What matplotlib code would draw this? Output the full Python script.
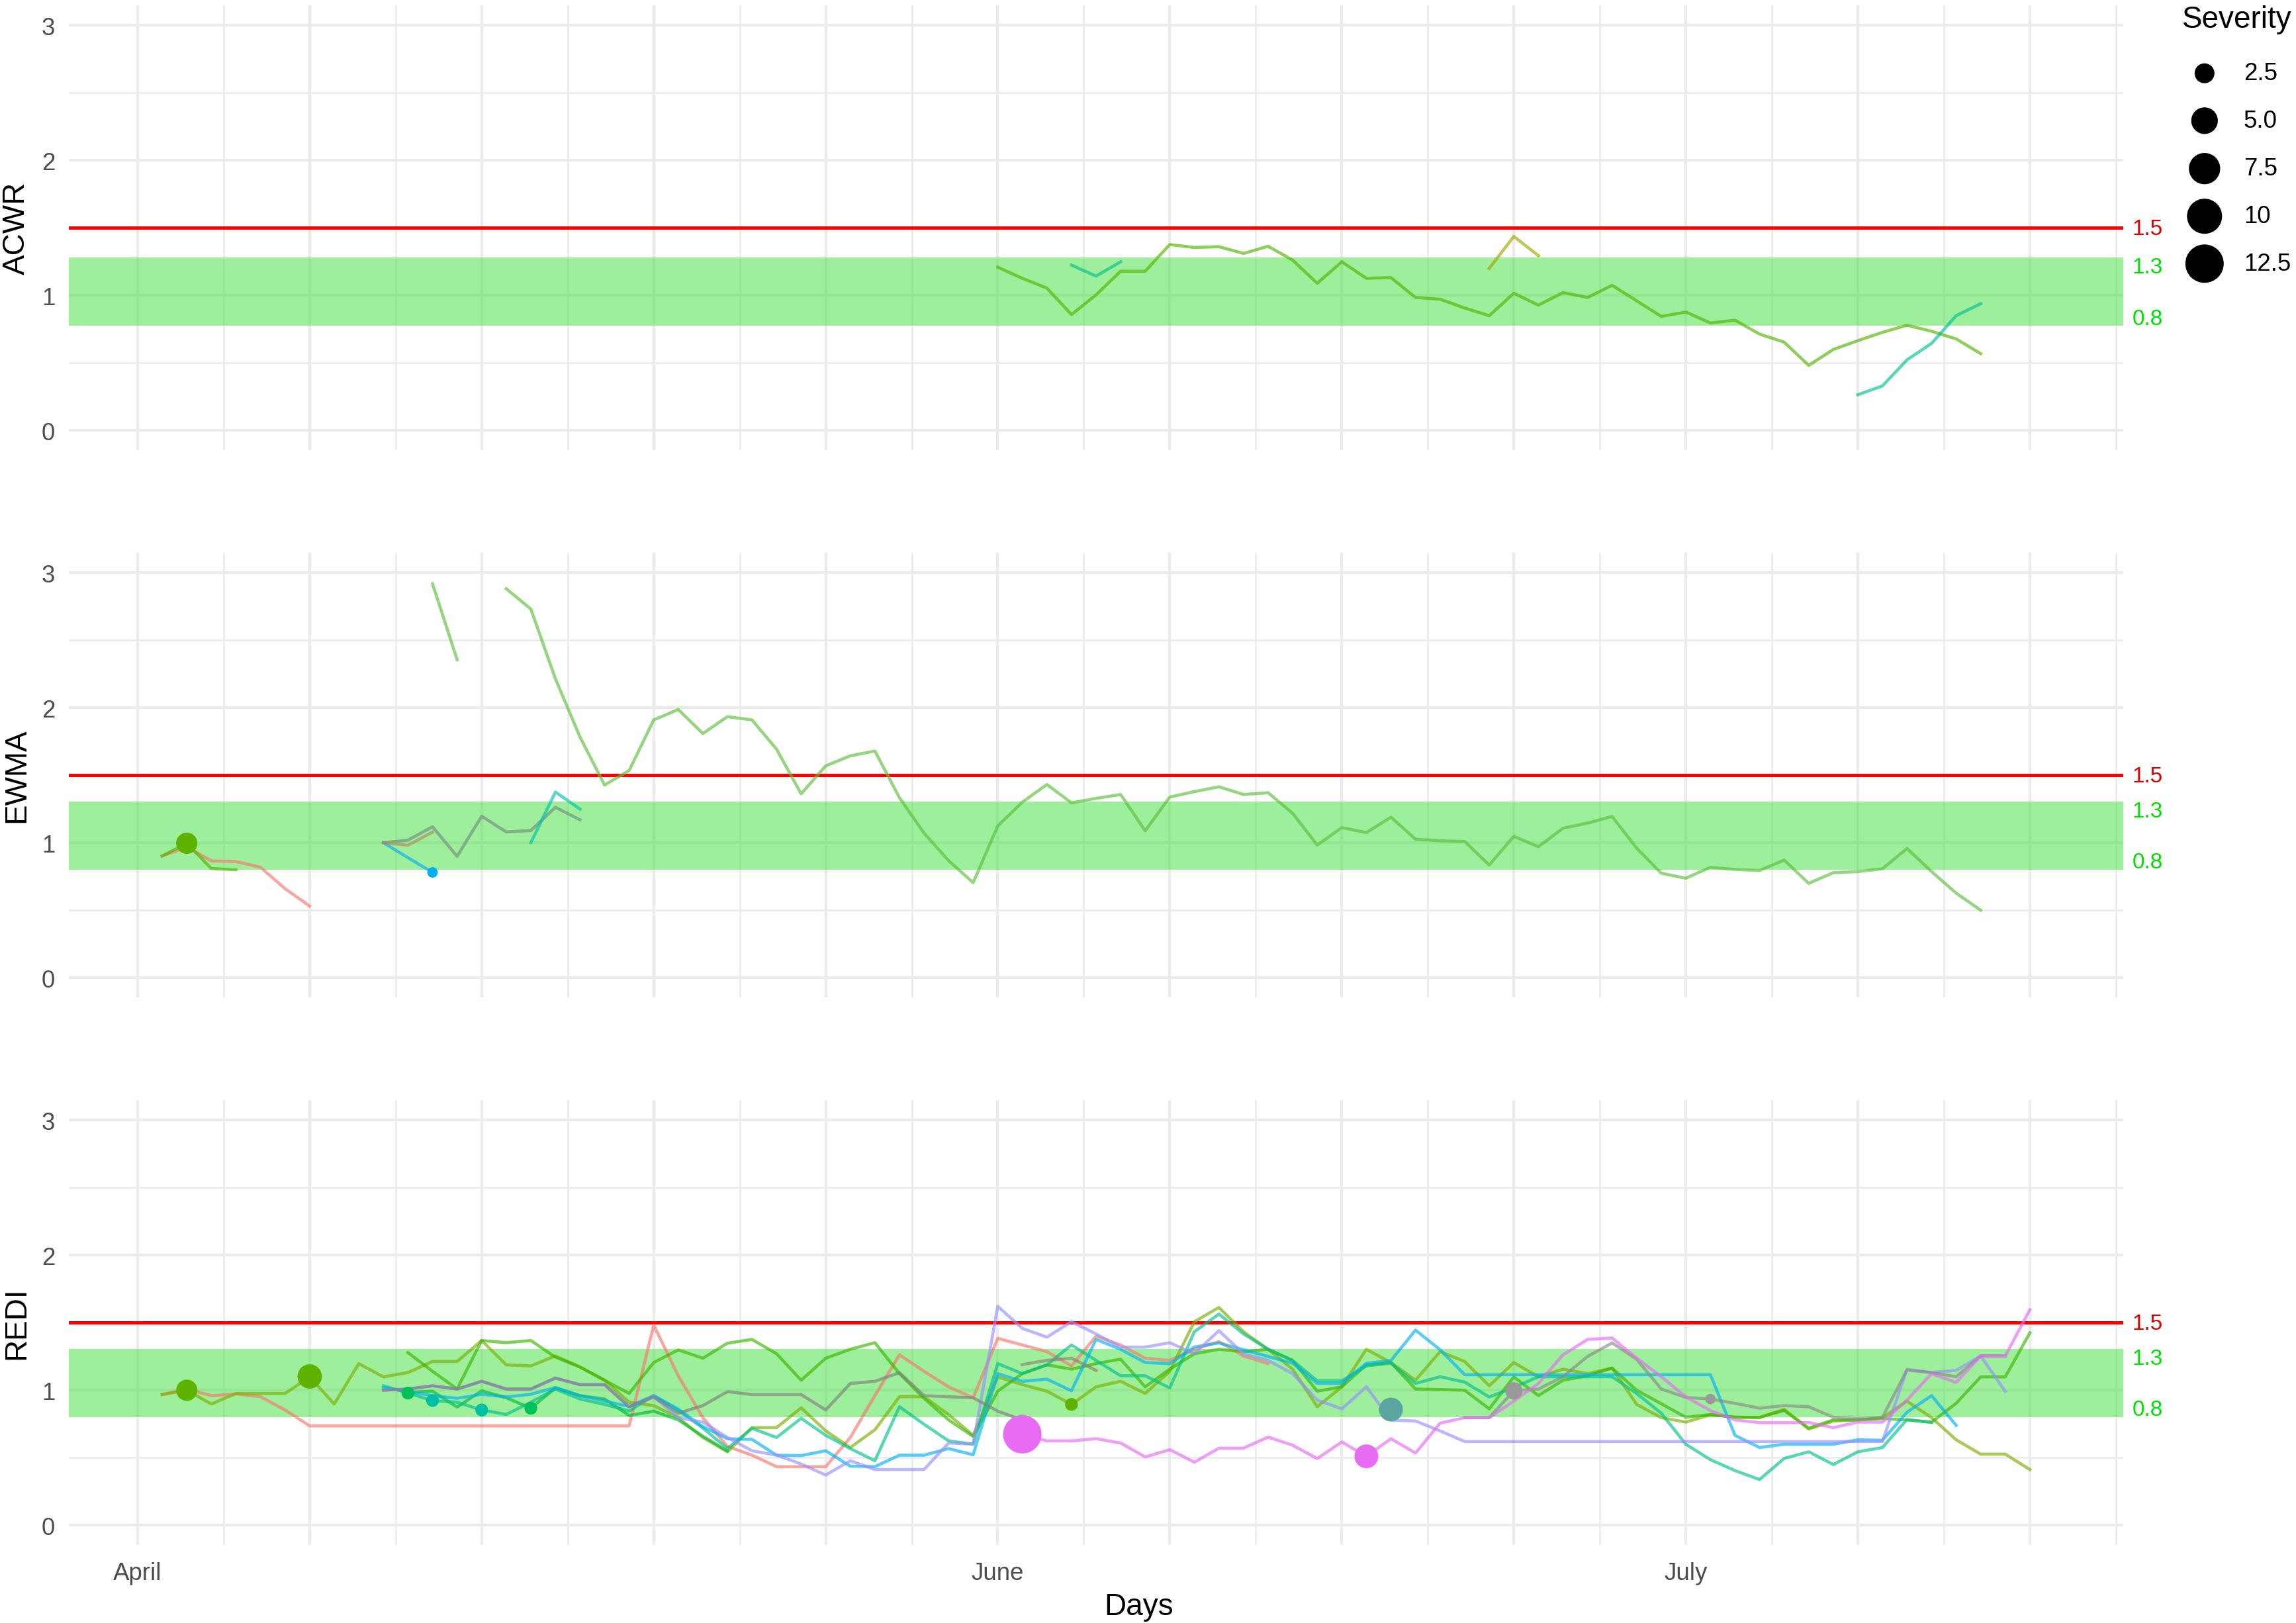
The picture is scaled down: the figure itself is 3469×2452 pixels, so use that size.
import numpy as np
import matplotlib
matplotlib.use("Agg")
import matplotlib.pyplot as plt

plt.rcParams['font.family'] = ['Liberation Sans', 'DejaVu Sans']

# ---------------- data ----------------
days = np.arange(1, 78)
tick_days = [0, 35, 63]
tick_labels = ["April", "June", "July"]
metrics = ["ACWR", "EWMA", "REDI"]
ref_red = 1.5
band_lims = [(0.775, 1.282), (0.803, 1.307), (0.80, 1.307)]


def series(start, vals):
    y = np.full(days.size, np.nan)
    y[start - 1:start - 1 + len(vals)] = vals
    return y

# ACWR
acwr_green = series(35, [1.209, 1.127, 1.054, 0.858, 1.004, 1.179, 1.179, 1.377, 1.355, 1.361,
                         1.311, 1.364, 1.261, 1.090, 1.249, 1.127, 1.132, 0.985, 0.972, 0.907,
                         0.850, 1.016, 0.928, 1.021, 0.985, 1.075, 0.960, 0.845, 0.877, 0.796,
                         0.817, 0.714, 0.654, 0.482, 0.600, 0.665, 0.727, 0.779, 0.735, 0.678, 0.569])
acwr_teal1 = series(38, [1.225, 1.143, 1.249])
acwr_olive = series(55, [1.200, 1.437, 1.295])
acwr_teal2 = series(70, [0.265, 0.330, 0.523, 0.645, 0.850, 0.939])

# EWMA
ewma_pink = series(1, [0.903, 0.969, 0.866, 0.862, 0.819, 0.660, 0.532])
ewma_green_a = series(1, [0.903, 0.997, 0.810, 0.800])
ewma_cyan = series(10, [1.001, 0.89, 0.781])
ewma_gray = series(10, [1.001, 1.020, 1.119, 0.900, 1.197, 1.081, 1.091, 1.263, 1.171])
ewma_brown = series(10, [1.001, 0.982, 1.08])
ewma_teal = series(16, [1.001, 1.376, 1.250])
ewma_green_b = series(12, [2.918, 2.356])
ewma_green_c = series(15, [2.881, 2.731, 2.215, 1.784, 1.428, 1.535, 1.910, 1.987, 1.809, 1.934,
                           1.910, 1.693, 1.363, 1.570, 1.644, 1.680, 1.334, 1.072, 0.868, 0.705,
                           1.125, 1.301, 1.432, 1.296, 1.329, 1.358, 1.089, 1.339, 1.379, 1.415,
                           1.358, 1.371, 1.219, 0.983, 1.113, 1.076, 1.190, 1.027, 1.015, 1.010,
                           0.836, 1.048, 0.971, 1.108, 1.146, 1.195, 0.961, 0.775, 0.738, 0.819,
                           0.803, 0.795, 0.873, 0.700, 0.779, 0.787, 0.808, 0.958, 0.787, 0.628, 0.501])

# REDI
redi_pink = series(1, [0.968, 1.009, 0.960, 0.973, 0.952, 0.854] + [0.736] * 14 +
                   [1.482, 1.107, 0.797, 0.584, 0.519, 0.434, 0.434, 0.434, 0.65, 0.96,
                    1.262, 1.14, 1.025, 0.944, 1.384, 1.335, 1.286, 1.18, 1.40, 1.335,
                    1.237, 1.221, 1.303, 1.36, 1.254, 1.197])
redi_olive = series(1, [0.968, 1.0, 0.898, 0.976, 0.976, 0.976, 1.099, 0.898, 1.197, 1.099,
                        1.131, 1.213, 1.213, 1.368, 1.188, 1.180, 1.254, 1.172, 1.074, 0.911,
                        0.886, 0.797, 0.65, 0.544, 0.723, 0.723, 0.87, 0.699, 0.576, 0.707,
                        0.952, 0.952, 0.82, 0.666, 1.099, 1.041, 0.993, 0.895, 1.025, 1.066,
                        0.976, 1.14, 1.507, 1.613, 1.433, 1.303, 1.156, 0.878, 1.025, 1.303,
                        1.205, 1.074, 1.286, 1.213, 1.033, 1.205, 1.099, 1.156, 1.123, 1.164,
                        0.895, 0.797, 0.764, 0.818, 0.801, 0.797, 0.859, 0.712, 0.772, 0.78,
                        0.797, 0.919, 0.797, 0.633, 0.527, 0.527, 0.413])
redi_green = series(11, [1.278, 1.14, 1.009, 1.368, 1.352, 1.368, 1.245, 1.172, 1.074, 0.976,
                         1.205, 1.299, 1.237, 1.348, 1.376, 1.27, 1.074, 1.237, 1.303, 1.352,
                         1.123, 0.94, 0.78, 0.658, 0.993, 1.123, 1.188, 1.156, 1.197, 1.23,
                         1.025, 1.156, 1.27, 1.303, 1.286, 1.303, 1.221, 0.993, 1.025, 1.188,
                         1.205, 1.009, 1.005, 1.0, 0.862, 1.099, 0.96, 1.074, 1.107, 1.164,
                         1.0, 0.9, 0.80, 0.82, 0.80, 0.80, 0.85, 0.72, 0.78, 0.78, 0.79, 0.78,
                         0.764, 0.903, 1.099, 1.099, 1.425])
redi_green2 = series(11, [0.984, 0.993, 0.875, 0.996, 0.944, 0.867, 1.017, 0.96, 0.935, 0.813,
                          0.845, 0.78, 0.66, 0.55])
redi_teal = series(10, [1.033, 0.979, 0.924, 0.911, 0.854, 0.821, 0.911, 1.009, 0.935, 0.895, 0.846,
                        0.96, 0.85, 0.72, 0.568, 0.718, 0.65, 0.792, 0.666, 0.568, 0.478,
                        0.878, 0.748, 0.625, 0.601, 1.197, 1.123, 1.188, 1.335, 1.221, 1.107,
                        1.107, 1.017, 1.433, 1.564, 1.417, 1.303, 1.22, 1.07, 1.07, 1.18,
                        1.2, 1.05, 1.1, 1.06, 0.95, 1.02, 1.1, 1.1, 1.1, 1.1,
                        0.976, 0.83, 0.6, 0.486, 0.405, 0.339, 0.495, 0.544, 0.45, 0.544,
                        0.576, 0.783, 0.761])
redi_cyan = series(10, [1.02, 0.99, 0.96, 0.94, 0.97, 0.95, 0.97, 1.02, 0.96, 0.92, 0.88,
                        0.96, 0.86, 0.73, 0.641, 0.636, 0.519, 0.516, 0.552, 0.438, 0.434,
                        0.519, 0.519, 0.568, 0.522, 1.123, 1.066, 1.082, 0.996, 1.376, 1.303,
                        1.205, 1.197, 1.32, 1.35, 1.3, 1.25, 1.2, 1.05, 1.05, 1.2,
                        1.22, 1.445, 1.30, 1.115, 1.115, 1.115, 1.115, 1.115, 1.115, 1.115,
                        1.115, 1.115, 1.115, 1.115, 0.666, 0.576, 0.60, 0.60, 0.60, 0.633,
                        0.63, 0.837, 0.96, 0.74])
redi_purple = series(10, [1.0, 1.009, 1.033, 1.009, 1.066, 1.009, 1.009, 1.09, 1.041, 1.041,
                          0.878, 0.952, 0.797, 0.764, 0.65, 0.552, 0.519, 0.454, 0.372, 0.478,
                          0.413, 0.413, 0.413, 0.609, 0.601, 1.621, 1.458, 1.393, 1.507, 1.417,
                          1.319, 1.319, 1.352, 1.27, 1.441, 1.27, 1.221, 1.123, 0.927, 0.862,
                          1.025, 0.78, 0.772, 0.699] + [0.62] * 18 +
                     [1.156, 1.131, 1.147, 1.254, 0.992])
redi_gray = series(10, [1.0, 1.009, 1.033, 1.009, 1.066, 1.009, 1.009, 1.09, 1.041, 1.041,
                        0.878, 0.95, 0.83, 0.886, 0.99, 0.968, 0.968, 0.968, 0.854, 1.05,
                        1.066, 1.13, 0.96, 0.952, 0.944, 0.845, 0.78])
redi_gray_seg = series(36, [1.19, 1.221, 1.237, 1.147])
redi_gray2 = series(54, [0.797, 0.797, 0.996, 1.009, 1.10, 1.25, 1.35, 1.229, 1.009, 0.947,
                         0.935, 0.903, 0.867, 0.886, 0.878, 0.80, 0.79, 0.80, 1.15, 1.13,
                         1.10, 1.254, 1.254])
redi_magenta = series(36, [0.674, 0.625, 0.625, 0.641, 0.609, 0.506, 0.56, 0.467, 0.571, 0.571,
                           0.653, 0.593, 0.494, 0.617, 0.511, 0.641, 0.535, 0.756, 0.797, 0.797,
                           0.92, 1.05, 1.262, 1.376, 1.387, 1.237, 1.1, 0.95, 0.85, 0.78,
                           0.76, 0.76, 0.76, 0.723, 0.764, 0.764, 0.927, 1.123, 1.058, 1.254,
                           1.254, 1.596])

# points (injuries): day, value, severity, colour
acwr_pts_day, acwr_pts_val, acwr_pts_sev, acwr_pts_col = [], [], [], []
ewma_pts_day = [2, 12]
ewma_pts_val = [0.997, 0.781]
ewma_pts_sev = [2.9, 1.2]
ewma_pts_col = ["#5DB300", "#00AEEF"]
redi_pts_day = [2, 7, 11, 12, 14, 16, 36, 36, 38, 50, 51, 56, 64]
redi_pts_val = [1.0, 1.102, 0.979, 0.924, 0.854, 0.867, 0.755, 0.674, 0.895, 0.511, 0.857, 0.996, 0.935]
redi_pts_sev = [2.9, 4.0, 1.3, 1.3, 1.3, 1.3, 1.9, 12.5, 1.3, 3.8, 3.8, 1.9, 1.2]
redi_pts_col = ["#5DB300", "#5DB300", "#00C05A", "#00BFA5", "#00BFA5", "#00C05A", "#999999",
                "#E76BF3", "#5DB300", "#E76BF3", "#5AA5A0", "#999999", "#999999"]

legend_sev = [2.5, 5.0, 7.5, 10, 12.5]
legend_lab = ["2.5", "5.0", "7.5", "10", "12.5"]

# ---------------- layout ----------------
W, H, DPI = 3469, 2453, 300
fig = plt.figure(figsize=(W / DPI, H / DPI), dpi=DPI)
L, R = 104, 3208
panel_px = [(9, 681), (836, 1508), (1663, 2335)]
XLIM = (-2.8, 80.8)
YLIM = (-0.145, 3.148)
PX = 72.0 / DPI  # points per pixel


def sev_to_s(sev):
    sev = np.asarray(sev, dtype=float)
    size = 1 + 5 * np.sqrt(np.clip((sev - 1.22) / 22.27, 0, None))
    d_pt = size * 2.845 + 0.945
    return d_pt ** 2

line_sets = [
    [(acwr_green, "#53B400"), (acwr_teal1, "#00C08B"), (acwr_olive, "#A3A500"), (acwr_teal2, "#00C094")],
    [(ewma_pink, "#F8766D"), (ewma_green_a, "#53B400"), (ewma_cyan, "#00B0F6"), (ewma_gray, "#6F8F7F"),
     (ewma_brown, "#B08C60"), (ewma_teal, "#00C0AF"), (ewma_green_b, "#5CBF3A"), (ewma_green_c, "#5CBF3A")],
    [(redi_pink, "#F8766D"), (redi_olive, "#7CAE00"), (redi_green, "#39B600"), (redi_green2, "#00BA38"),
     (redi_teal, "#00C08B"), (redi_cyan, "#00B0F6"), (redi_purple, "#9590FF"), (redi_gray, "#7F7F7F"),
     (redi_gray_seg, "#8F7F70"), (redi_gray2, "#8A8A8A"), (redi_magenta, "#E76BF3")],
]
pt_sets = [
    (acwr_pts_day, acwr_pts_val, acwr_pts_sev, acwr_pts_col),
    (ewma_pts_day, ewma_pts_val, ewma_pts_sev, ewma_pts_col),
    (redi_pts_day, redi_pts_val, redi_pts_sev, redi_pts_col),
]

for i, name in enumerate(metrics):
    top, bot = panel_px[i]
    ax = fig.add_axes([L / W, 1 - bot / H, (R - L) / W, (bot - top) / H])
    ax.set_xlim(*XLIM)
    ax.set_ylim(*YLIM)
    for s in ax.spines.values():
        s.set_visible(False)
    # grid
    for v in [0, 1, 2, 3]:
        ax.axhline(v, color="#EBEBEB", lw=4.4 * PX, zorder=0)
    for v in [0.5, 1.5, 2.5]:
        ax.axhline(v, color="#EBEBEB", lw=2.6 * PX, zorder=0)
    for k in range(24):
        ax.axvline(3.5 * k, color="#EBEBEB", lw=(4.4 if k % 2 == 0 else 2.6) * PX, zorder=0)
    # band and reference line
    lo, hi = band_lims[i]
    ax.axhspan(lo, hi, color="#4FE34A", alpha=0.55, lw=0, zorder=1)
    ax.axhline(ref_red, color="#FF0000", lw=5.0 * PX, zorder=2)
    # lines
    for y, c in line_sets[i]:
        ax.plot(days, y, color=c, alpha=0.65, lw=4.6 * PX, solid_joinstyle="round", zorder=3)
    d, v, sv, cc = pt_sets[i]
    if len(d):
        ax.scatter(d, v, s=sev_to_s(sv), c=cc, linewidths=0, zorder=4)
    # ticks
    ax.set_yticks([0, 1, 2, 3])
    ax.set_yticklabels(["0", "1", "2", "3"])
    ax.tick_params(axis="y", length=0, pad=5, labelsize=8.8, labelcolor="#4D4D4D")
    ax.set_xticks(tick_days)
    if i == 2:
        ax.set_xticklabels(tick_labels)
        ax.tick_params(axis="x", length=0, pad=6, labelsize=8.8, labelcolor="#4D4D4D")
    else:
        ax.set_xticklabels([])
        ax.tick_params(axis="x", length=0)
    # right labels
    tr = ax.get_yaxis_transform()
    ax.text(1.0045, ref_red - 0.006, "1.5", transform=tr, color="#E00000",
            fontsize=8.0, va="center", ha="left", clip_on=False)
    ax.text(1.0045, hi - 0.074, "1.3", transform=tr, color="#00E000",
            fontsize=8.0, va="center", ha="left", clip_on=False)
    ax.text(1.0045, lo + 0.055, "0.8", transform=tr, color="#00E000",
            fontsize=8.0, va="center", ha="left", clip_on=False)
    # panel label
    fig.text(25 / W, 1 - (top + bot) / 2 / H, name, rotation=90, fontsize=11, color="black",
             ha="center", va="center")

fig.text(1721 / W, 1 - 2428 / H, "Days", fontsize=11, ha="center", va="center", color="black")

# legend
fig.text(3297 / W, 1 - 30 / H, "Severity", fontsize=11, ha="left", va="center", color="black")
lax = fig.add_axes([3300 / W, 1 - 440 / H, 70 / W, 370 / H])
lax.set_xlim(0, 1)
lax.set_ylim(440, 70)
lax.axis("off")
leg_y = [111.7, 183.3, 255.7, 327.7, 399.3]
lax.scatter([0.44] * 5, leg_y, s=sev_to_s(legend_sev), c="black", linewidths=0, clip_on=False)
for yy, lab in zip(leg_y, legend_lab):
    fig.text(3390 / W, 1 - yy / H, lab, fontsize=8.8, ha="left", va="center", color="black")

fig.savefig("out.png", dpi=DPI)
